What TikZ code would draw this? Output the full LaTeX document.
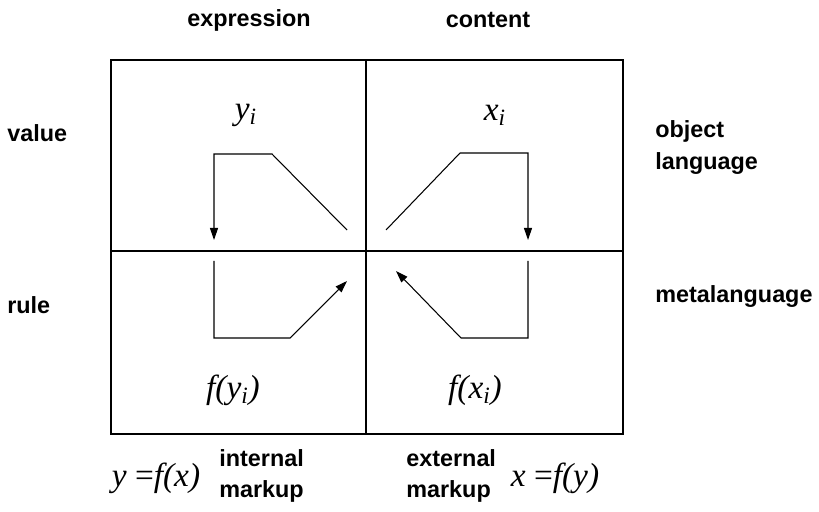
\documentclass[tikz,border=0pt]{standalone}
\usepackage{fontspec}
\setmainfont{Liberation Serif}
\setsansfont{Liberation Sans}
\usepackage{tikz}
\usetikzlibrary{positioning, arrows.meta, calc}

\begin{document}
\begin{tikzpicture}[
        every node/.style={inner sep=0pt, font=\sffamily\bfseries\fontsize{13.3}{18}\selectfont},
        sym/.style={font=\itshape\fontsize{19}{22}\selectfont},
        frame/.style={line width=0.85pt},
        flow/.style={line width=0.6pt, -{Triangle[length=0.24cm, width=0.16cm]}}]
        \useasboundingbox (0,0) rectangle (16.38,10.22);

        % the four quadrants
        \draw[frame] (2.22,1.54) rectangle (12.46,9.02);
        \draw[frame] (7.32,1.54) -- (7.32,9.02);
        \draw[frame] (2.22,5.2) -- (12.46,5.2);

        % column and row heads
        \node (expr) at (4.98,9.82) {expression};
        \node (cont) at (9.76,9.82) {content};
        \node[anchor=west] (val) at (0.14,7.56) {value};
        \node[anchor=west] (rul) at (0.14,4.12) {rule};
        \node[anchor=west, align=left] (objl) at (13.1,7.27) {object\\language};
        \node[anchor=west] (metal) at (13.1,4.28) {metalanguage};

        % cells
        \node[sym] (yi) at (4.92,7.92) {y\textsubscript{i}};
        \node[sym] (xi) at (9.9,7.92) {x\textsubscript{i}};
        \node[sym] (fyi) at (4.66,2.42) {f(y\textsubscript{i})};
        \node[sym] (fxi) at (9.5,2.42) {f(x\textsubscript{i})};

        % arrows through the middle
        \coordinate (a1) at (6.94,5.62);
        \coordinate (a2) at (4.28,5.42);
        \coordinate (b1) at (4.28,5.0);
        \coordinate (b2) at (6.94,4.6);
        \coordinate (c1) at (7.72,5.62);
        \coordinate (c2) at (10.56,5.42);
        \coordinate (d1) at (10.56,5.0);
        \coordinate (d2) at (7.92,4.8);

        \draw[flow] (a1) -- (5.44,7.14) -- (4.28,7.14) -- (a2);
        \draw[flow] (b1) -- (4.28,3.46) -- (5.8,3.46) -- (b2);
        \draw[flow] (c1) -- (9.2,7.16) -- (10.56,7.16) -- (c2);
        \draw[flow] (d1) -- (10.56,3.46) -- (9.22,3.46) -- (d2);

        % foot
        \node[sym] (yfx) at (3.12,0.66) {y {\upshape=}f(x)};
        \node[anchor=west, align=left] (inm) at (4.38,0.7) {internal\\markup};
        \node[anchor=west, align=left] (exm) at (8.12,0.7) {external\\markup};
        \node[sym] (xfy) at (11.1,0.66) {x {\upshape=}f(y)};
      \end{tikzpicture}
\end{document}
